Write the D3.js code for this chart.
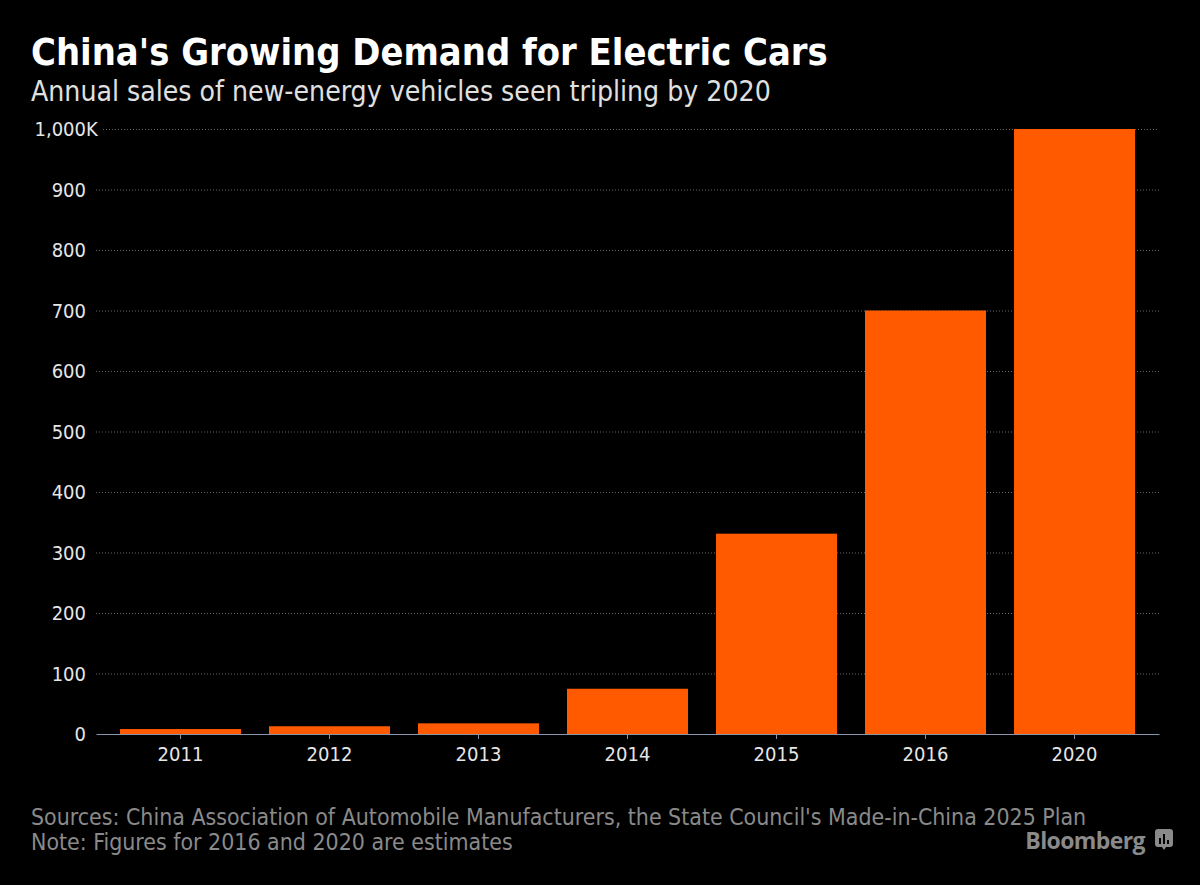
<!DOCTYPE html>
<html>
<head>
<meta charset="utf-8">
<script src="https://cdn.jsdelivr.net/npm/d3@7.9.0/dist/d3.min.js"></script>
<style>
  html, body { margin: 0; padding: 0; background: #000; }
  svg { display: block; }
</style>
</head>
<body>
<svg id="chart" width="1200" height="885"></svg>
<script>
// annual NEV sales, thousands of units
const years = ['2011', '2012', '2013', '2014', '2015', '2016', '2020'];
const sales = [8.2, 12.8, 17.6, 74.8, 331.1, 700, 1000];
const yTicks = [0, 100, 200, 300, 400, 500, 600, 700, 800, 900, 1000];

const title = "China's Growing Demand for Electric Cars";
const subtitle = 'Annual sales of new-energy vehicles seen tripling by 2020';
const footnotes = [
  "Sources: China Association of Automobile Manufacturers, the State Council's Made-in-China 2025 Plan",
  'Note: Figures for 2016 and 2020 are estimates',
];

const svg = d3.select('#chart');
const plotLeft = 96, plotRight = 1159, plotTop = 129, plotBottom = 734;
const sans = 'DejaVu Sans Condensed, DejaVu Sans';

svg.append('rect').attr('width', 1200).attr('height', 885).attr('fill', '#000');

// shrink/grow a text's font size so it spans the wanted width
function fitWidth(sel, size, want) {
  sel.attr('font-size', size);
  const w = sel.node().getComputedTextLength();
  sel.attr('font-size', (size * want / w).toFixed(2));
  return sel;
}

fitWidth(svg.append('text')
  .attr('x', 31).attr('y', 65)
  .attr('fill', '#fff')
  .attr('font-family', sans)
  .attr('font-weight', 'bold')
  .text(title), 37, 797);

fitWidth(svg.append('text')
  .attr('x', 31).attr('y', 101)
  .attr('fill', '#e0e0e0')
  .attr('font-family', sans)
  .attr('font-weight', 200)
  .text(subtitle), 26, 740);

const x = d3.scaleBand()
  .domain(years)
  .range([plotLeft, plotRight])
  .paddingInner(0.188)
  .paddingOuter(0.161);

const y = d3.scaleLinear().domain([0, 1000]).range([plotBottom, plotTop]);

// gridlines + y labels
const grid = svg.append('g');
yTicks.filter((t) => t > 0).forEach((t) => {
  grid.append('line')
    .attr('x1', t === 1000 ? 103 : plotLeft).attr('x2', plotRight)
    .attr('y1', y(t) + 0.5).attr('y2', y(t) + 0.5)
    .attr('stroke', '#666')
    .attr('stroke-dasharray', '1,2');
});

const fmt = d3.format(',');
const yLab = svg.append('g')
  .attr('font-family', sans)
  .attr('font-size', 20)
  .attr('fill', '#e6e6e6');
yTicks.forEach((t) => {
  yLab.append('text')
    .attr('x', 86).attr('y', y(t) + 7)
    .attr('text-anchor', 'end')
    .text(fmt(t));
  if (t === 1000) {
    yLab.append('text')
      .attr('x', 86).attr('y', y(t) + 7)
      .text('K');
  }
});

// bars
svg.append('g')
  .selectAll('rect')
  .data(years)
  .join('rect')
  .attr('x', (d) => x(d))
  .attr('width', x.bandwidth())
  .attr('y', (d, i) => y(sales[i]))
  .attr('height', (d, i) => plotBottom - y(sales[i]))
  .attr('fill', '#ff5a00');

// x axis
const xAxis = svg.append('g')
  .attr('transform', `translate(0,${plotBottom})`)
  .call(d3.axisBottom(x).tickSize(5).tickPadding(8).tickSizeOuter(0));
xAxis.select('.domain').attr('stroke', '#8796a8');
xAxis.selectAll('.tick line').attr('stroke', '#8796a8');
xAxis.selectAll('.tick text')
  .attr('fill', '#e6e6e6')
  .attr('font-family', sans)
  .attr('font-size', 20);

// footer
const foot = svg.append('g')
  .attr('font-family', sans)
  .attr('fill', '#8a8a8a');
const footLines = footnotes.map((line, i) =>
  foot.append('text').attr('x', 31).attr('y', 825 + i * 25).text(line));
fitWidth(footLines[0], 20, 1056);
footLines[1].attr('font-size', footLines[0].attr('font-size'));

// Bloomberg mark
svg.append('text')
  .attr('x', 1145).attr('y', 849)
  .attr('text-anchor', 'end')
  .attr('fill', '#8a8a8a')
  .attr('font-family', 'Open Sans, DejaVu Sans')
  .attr('font-weight', 'bold')
  .attr('font-size', 23)
  .attr('letter-spacing', -0.6)
  .text('Bloomberg');

const logo = svg.append('g').attr('transform', 'translate(1155,829)');
logo.append('path')
  .attr('d', 'M3,0 H15 Q18,0 18,3 V15 Q18,18 15,18 H11 L9,21 L7,18 H3 Q0,18 0,15 V3 Q0,0 3,0 Z')
  .attr('fill', '#8a8a8a');
[[4, 9], [8, 5], [12, 11]].forEach(([bx, by]) => {
  logo.append('rect').attr('x', bx).attr('y', by).attr('width', 2).attr('height', 15 - by).attr('fill', '#000');
});
</script>
</body>
</html>
